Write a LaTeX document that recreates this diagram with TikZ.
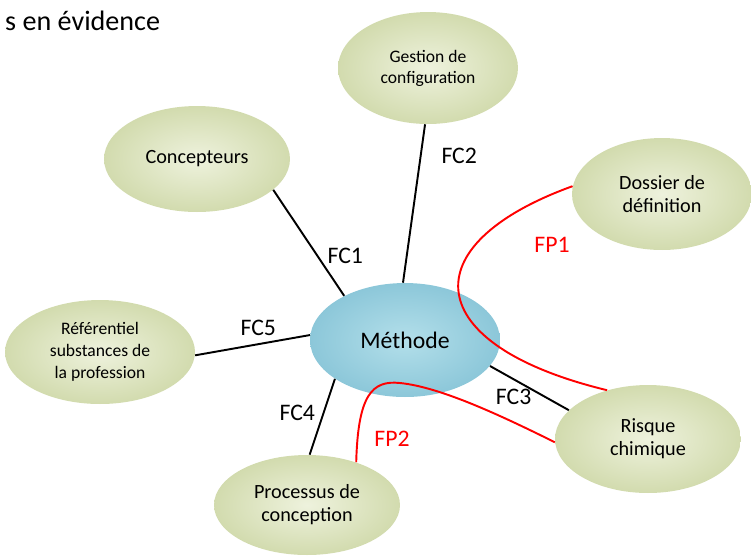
\documentclass[tikz,border=0pt]{standalone}
\usepackage{fontspec}
\setmainfont{Carlito}
\usetikzlibrary{shapes.geometric}
\definecolor{bubIn}{HTML}{EEF2DD}
\definecolor{bubOut}{HTML}{D2DBAE}
\definecolor{hubIn}{HTML}{B3DFEA}
\definecolor{hubOut}{HTML}{8CC7D9}

\begin{document}
\begin{tikzpicture}[x=0.02cm, y=-0.02cm, font=\fontsize{11.5}{13}\selectfont,
  bub/.style={ellipse, inner sep=0pt, align=center, inner color=bubIn, outer color=bubOut},
  hub/.style={bub, inner color=hubIn, outer color=hubOut, font=\fontsize{13.5}{16}\selectfont},
  fc/.style={line width=1.1pt, black},
  fp/.style={line width=1.1pt, red},
  lab/.style={font=\fontsize{13.5}{16}\selectfont}]
\useasboundingbox (0,0) rectangle (751,556);
\node[anchor=west, font=\fontsize{16}{19}\selectfont] (titre) at (-1,21) {s en évidence};
% bulles
\node[hub, minimum width=3.8cm, minimum height=2.28cm] (met) at (405,340) {Méthode};
\node[bub, minimum width=3.6cm, minimum height=2.24cm, font=\fontsize{10}{12}\selectfont] (gest) at (428,68) {Gestion de\\configuration};
\node[bub, minimum width=3.72cm, minimum height=2.12cm] (conc) at (197,159) {Concepteurs};
\node[bub, minimum width=3.6cm, minimum height=2.24cm] (doss) at (662,194) {Dossier de\\définition};
\node[bub, minimum width=3.8cm, minimum height=2.08cm, font=\fontsize{10}{12.5}\selectfont] (ref) at (100,352) {Référentiel\\substances de\\la profession};
\node[bub, minimum width=3.72cm, minimum height=2.16cm] (risk) at (648,439) {Risque\\chimique};
\node[bub, minimum width=3.72cm, minimum height=2.0cm] (proc) at (307,505) {Processus de\\conception};
% fonctions contraintes
\draw[fc] (conc.-22) -- node[lab, pos=0.62, right=2pt] (fc1) {FC1} (met.144);
\draw[fc] (gest.-93) -- node[lab, pos=0.2, right=8pt] (fc2) {FC2} (met.92);
\draw[fc] (ref.-2) -- node[lab, pos=0.55, above=1pt] (fc5) {FC5} (met.177);
\draw[fc] (proc.87) -- node[lab, pos=0.55, left=1pt] (fc4) {FC4} (met.-151);
\draw[fc] (met.-17) -- node[lab, pos=0.3, below=2pt] (fc3) {FC3} (risk.160);
% fonctions principales
\draw[fp] (doss.175) .. controls (410,245) and (420,345) .. (risk.130);
\node[lab, text=red] (fp1) at (552,245) {FP1};
\draw[fp] (proc.41) .. controls (358,395) and (372,380) .. (400,383)
  .. controls (440,387) and (500,415) .. (risk.182);
\node[lab, text=red] (fp2) at (392,439) {FP2};
\end{tikzpicture}
\end{document}
